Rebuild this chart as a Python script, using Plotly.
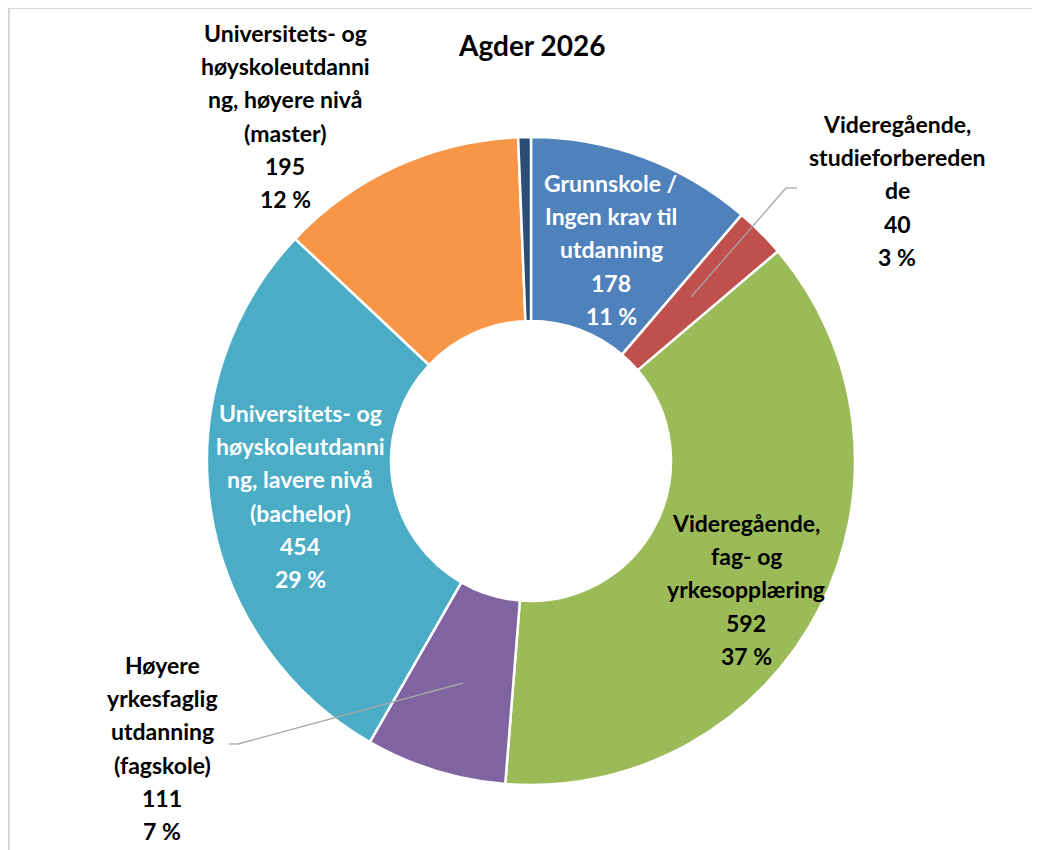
import plotly.graph_objects as go

OFF = 8  # browser body margin shifts the page by 8px
W, H = 1040 - OFF, 850 - OFF

categories = [
    "Grunnskole / Ingen krav til utdanning",
    "Videregående, studieforberedende",
    "Videregående, fag- og yrkesopplæring",
    "Høyere yrkesfaglig utdanning (fagskole)",
    "Universitets- og høyskoleutdanning, lavere nivå (bachelor)",
    "Universitets- og høyskoleutdanning, høyere nivå (master)",
    "Uoppgitt",
]
values = [178, 40, 592, 111, 454, 195, 10]
colors = ["#4F81BD", "#C0504D", "#9BBB59", "#8064A2", "#4BACC6", "#F79646", "#2C4D75"]

# wrapped label lines as drawn in the original (Excel-style wrapping)
label_lines = [
    ["Grunnskole /", "Ingen krav til", "utdanning"],
    ["Videregående,", "studieforbereden", "de"],
    ["Videregående,", "fag- og", "yrkesopplæring"],
    ["Høyere", "yrkesfaglig", "utdanning", "(fagskole)"],
    ["Universitets- og", "høyskoleutdanni", "ng, lavere nivå", "(bachelor)"],
    ["Universitets- og", "høyskoleutdanni", "ng, høyere nivå", "(master)"],
    None,
]
label_colors = ["white", "black", "black", "black", "white", "black", None]
# label block centre x and first-line y, in pixels
label_pos = [(611, 183), (897, 124), (746, 523), (162, 665), (300, 413), (285, 33), None]

FONT = "Lato, Calibri, sans-serif"
LINE_H = 33.2

total = sum(values)

def px(x, y):
    return (x - OFF) / W, 1 - (y - OFF) / H

cx, cy, r = 531 - OFF, 461 - OFF, 324
fig = go.Figure(go.Pie(
    labels=categories,
    values=values,
    sort=False,
    direction="clockwise",
    rotation=0,
    hole=0.432,
    textinfo="none",
    marker=dict(colors=colors, line=dict(color="white", width=2.5)),
    domain=dict(x=[(cx - r) / W, (cx + r) / W], y=[1 - (cy + r) / H, 1 - (cy - r) / H]),
    showlegend=False,
))

annotations = []
for lines, col, pos, v in zip(label_lines, label_colors, label_pos, values):
    if lines is None:
        continue
    pct = round(v / total * 100)
    all_lines = lines + [str(v), f"{pct} %"]
    x0, y0 = pos
    for i, t in enumerate(all_lines):
        ax, ay = px(x0, y0 + i * LINE_H)
        annotations.append(dict(
            x=ax, y=ay, xref="paper", yref="paper", text=f"<b>{t}</b>",
            showarrow=False, xanchor="center", yanchor="middle",
            font=dict(family=FONT, size=23, color=col),
        ))

tx, ty = px(531, 45)
annotations.append(dict(
    x=tx, y=ty, xref="paper", yref="paper", text="<b>Agder 2026</b>",
    showarrow=False, xanchor="center", yanchor="middle",
    font=dict(family=FONT, size=28, color="black"),
))

def seg(p, q, color="#A6A6A6", width=1.3):
    x0, y0 = px(*p)
    x1, y1 = px(*q)
    return dict(type="line", xref="paper", yref="paper", x0=x0, y0=y0, x1=x1, y1=y1,
                line=dict(color=color, width=width))

shapes = [
    seg((797, 188), (786, 188)), seg((786, 188), (691, 297)),
    seg((229, 744), (238, 744)), seg((238, 744), (463, 683)),
    # chart-area border (only top and left edges are inside the picture)
    seg((9, 8), (1040, 8), "#D9D9D9", 2), seg((9, 8), (9, 850), "#D9D9D9", 2),
]

fig.update_layout(
    width=W, height=H,
    margin=dict(l=0, r=0, t=0, b=0),
    paper_bgcolor="white",
    plot_bgcolor="white",
    annotations=annotations,
    shapes=shapes,
)

fig.write_html("out.html")
